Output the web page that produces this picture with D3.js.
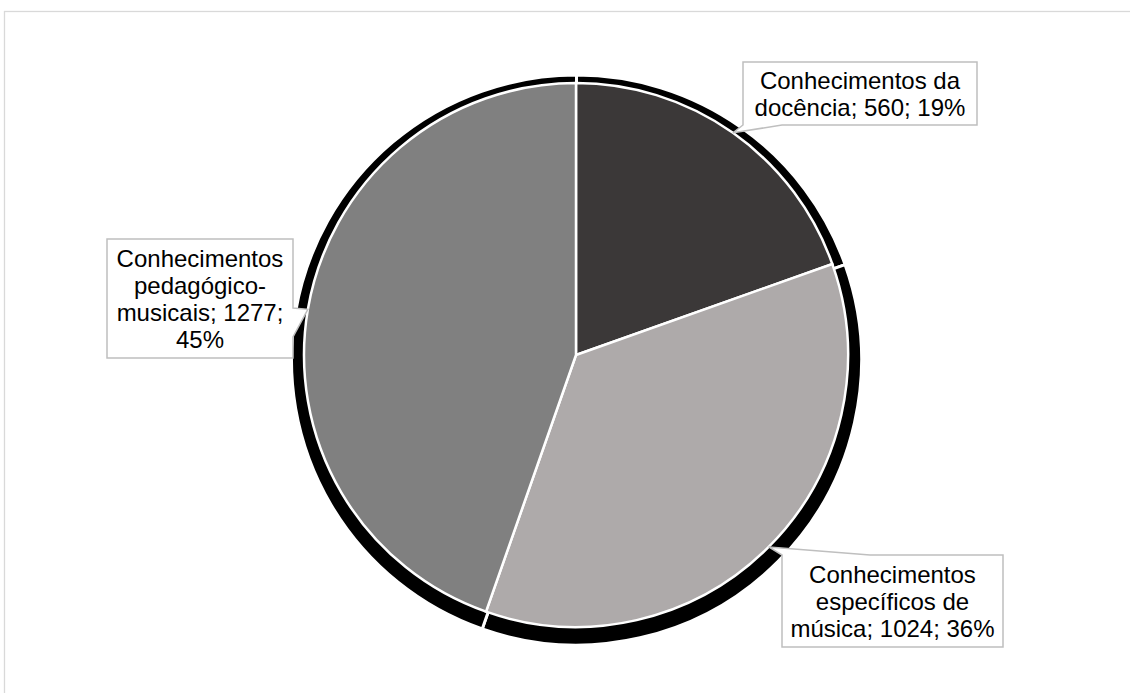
<!DOCTYPE html>
<html>
<head>
<meta charset="utf-8">
<script src="https://cdn.jsdelivr.net/npm/d3@7/dist/d3.min.js"></script>
<style>
  html, body { margin: 0; padding: 0; background: #fff; }
  svg { display: block; }
  text { font-family: "Liberation Sans", Arial, sans-serif; }
</style>
</head>
<body>
<svg id="chart" width="1130" height="693"></svg>
<script>
// Knowledge categories and their counts
const categories = [
  "Conhecimentos da docência",
  "Conhecimentos específicos de música",
  "Conhecimentos pedagógico-musicais"
];
const values = [560, 1024, 1277];
const percentLabels = ["19%", "36%", "45%"];
const sliceColors = ["#3b3838", "#aeaaaa", "#808080"];

const W = 1130, H = 693;
const cx = 576, cy = 355, R = 272;

const svg = d3.select("#chart");

// chart frame
svg.append("rect")
  .attr("x", 4.5).attr("y", 11.5)
  .attr("width", W + 10).attr("height", H + 10)
  .attr("fill", "#fff").attr("stroke", "#d9d9d9").attr("stroke-width", 1.3);

const pie = d3.pie().sort(null).value(d => d)(values);
const arc = d3.arc().innerRadius(0).outerRadius(R);
const shadowArc = d3.arc().innerRadius(0).outerRadius(R + 13);

// shadow behind the pie
svg.append("g")
  .attr("transform", `translate(${cx + 0.5},${cy + 5})`)
  .selectAll("path")
  .data(pie)
  .join("path")
  .attr("d", shadowArc)
  .attr("fill", "#000")
  .attr("stroke", "#fff")
  .attr("stroke-width", 3);

// slices
svg.append("g")
  .attr("transform", `translate(${cx},${cy})`)
  .selectAll("path")
  .data(pie)
  .join("path")
  .attr("d", arc)
  .attr("fill", (d, i) => sliceColors[i])
  .attr("stroke", "#fff")
  .attr("stroke-width", 2.5);

// callout boxes: rectangle, side the wedge leaves from, and wedge base span
const boxes = [
  { x0: 743, y0: 62, x1: 977, y1: 125, side: "bottom", a: 743, b: 782 },
  { x0: 782, y0: 555, x1: 1003, y1: 647, side: "top", a: 782, b: 870 },
  { x0: 107, y0: 239, x1: 293, y1: 358, side: "right", a: 308, b: 337 }
];

function wrapTokens(str) {
  const tokens = [];
  str.split(" ").forEach(w => {
    const parts = w.split(/(?<=-)/);
    parts.forEach((p, k) => tokens.push({ t: p, join: k > 0 ? "" : " " }));
  });
  return tokens;
}

const fontSize = 24, lineH = 27;
const measure = svg.append("text").attr("font-size", fontSize).attr("visibility", "hidden");
function textWidth(s) { measure.text(s); return measure.node().getComputedTextLength(); }

pie.forEach((d, i) => {
  const bx = boxes[i];
  const mid = (d.startAngle + d.endAngle) / 2;
  const tip = [cx + R * Math.sin(mid), cy - R * Math.cos(mid)];

  let pts;
  if (bx.side === "bottom") {
    pts = [[bx.x0, bx.y0], [bx.x1, bx.y0], [bx.x1, bx.y1], [bx.b, bx.y1], tip, [bx.a, bx.y1]];
  } else if (bx.side === "top") {
    pts = [[bx.a, bx.y0], tip, [bx.b, bx.y0], [bx.x1, bx.y0], [bx.x1, bx.y1], [bx.x0, bx.y1], [bx.x0, bx.y0]];
  } else {
    pts = [[bx.x0, bx.y0], [bx.x1, bx.y0], [bx.x1, bx.a], tip, [bx.x1, bx.b], [bx.x1, bx.y1], [bx.x0, bx.y1]];
  }
  svg.append("path")
    .attr("d", d3.line()(pts) + "Z")
    .attr("fill", "#fff")
    .attr("stroke", "#bfbfbf")
    .attr("stroke-width", 1.5);

  // label text wrapped to the box width
  const label = `${categories[i]}; ${values[i]}; ${percentLabels[i]}`;
  const maxW = bx.x1 - bx.x0 - 12;
  const lines = [];
  let cur = "";
  wrapTokens(label).forEach(tok => {
    const trial = cur === "" ? tok.t : cur + tok.join + tok.t;
    if (cur !== "" && textWidth(trial) > maxW) { lines.push(cur); cur = tok.t; }
    else cur = trial;
  });
  if (cur) lines.push(cur);

  const midX = (bx.x0 + bx.x1) / 2;
  const midY = (bx.y0 + bx.y1) / 2;
  const firstBase = midY - (lines.length - 1) * lineH / 2 + fontSize * 0.36;
  const t = svg.append("text")
    .attr("font-size", fontSize)
    .attr("fill", "#000")
    .attr("text-anchor", "middle");
  lines.forEach((ln, k) => {
    t.append("tspan").attr("x", midX).attr("y", firstBase + k * lineH).text(ln);
  });
});
measure.remove();
</script>
</body>
</html>
